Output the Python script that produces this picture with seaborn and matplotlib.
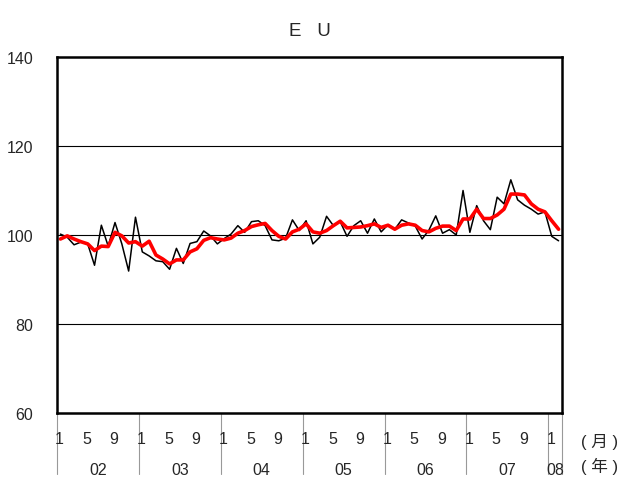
import numpy as np
import pandas as pd
import matplotlib
matplotlib.use("Agg")
import matplotlib.pyplot as plt
import matplotlib.transforms as mtransforms
import seaborn as sns

# monthly index, Jan 2002 - Feb 2008
years = ["02", "03", "04", "05", "06", "07", "08"]
month_ticks = ["1", "5", "9"]

monthly = [
    100.2, 99.5, 97.8, 98.4, 98.0, 93.2, 102.2, 97.5, 102.8, 98.0, 91.9, 104.0,
    96.2, 95.3, 94.2, 94.0, 92.3, 97.0, 93.6, 98.1, 98.5, 100.9, 99.8, 98.0,
    99.2, 100.2, 102.1, 100.6, 103.0, 103.2, 102.1, 98.9, 98.7, 99.3, 103.4, 101.0,
    103.2, 98.0, 99.5, 104.2, 102.1, 103.0, 99.7, 102.1, 103.2, 100.4, 103.6, 100.7,
    102.3, 101.3, 103.4, 102.7, 102.0, 99.1, 101.1, 104.3, 100.4, 101.2, 100.0, 110.0,
    100.6, 106.6, 103.2, 101.2, 108.5, 107.0, 112.4, 107.9, 106.7, 105.8, 104.7, 105.2,
    99.7, 98.7,
]

smoothed = [
    99.1, 99.8, 99.1, 98.5, 98.0, 96.5, 97.5, 97.4, 100.6, 99.8, 98.2, 98.5,
    97.5, 98.6, 95.5, 94.6, 93.5, 94.4, 94.4, 96.2, 96.9, 98.8, 99.4, 99.1,
    98.9, 99.3, 100.4, 101.0, 101.9, 102.3, 102.6, 101.0, 99.7, 99.1, 100.7, 101.3,
    102.5, 100.7, 100.4, 101.0, 102.1, 103.1, 101.6, 101.7, 101.8, 102.1, 102.5, 101.7,
    102.2, 101.3, 102.2, 102.5, 102.2, 101.0, 100.7, 101.5, 102.0, 102.0, 101.0, 103.6,
    103.6, 105.8, 103.7, 103.7, 104.5, 105.8, 109.2, 109.2, 109.0, 107.0, 105.8, 105.2,
    103.2, 101.3,
]

df = pd.DataFrame({"t": np.arange(len(monthly)), "monthly": monthly, "smoothed": smoothed})

sns.set_style("white")
plt.rcParams["font.family"] = ["Liberation Sans", "Noto Sans CJK JP", "DejaVu Sans"]

fig = plt.figure(figsize=(6.23, 4.81), dpi=100)
ax = fig.add_axes([57 / 623, 1 - 414 / 481, 505 / 623, 356 / 481])

sns.lineplot(data=df, x="t", y="monthly", ax=ax, color="black", linewidth=1.1)
sns.lineplot(data=df, x="t", y="smoothed", ax=ax, color="#ff0000", linewidth=2.6)

ax.set_xlim(-0.5, len(monthly) - 0.5)
ax.set_ylim(60, 140)
ax.set_yticks([60, 80, 100, 120, 140])
ax.tick_params(axis="y", length=0, pad=17, labelsize=11.5)
ax.set_xticks([])
ax.set_xlabel("")
ax.set_ylabel("")
for y in [80, 100, 120]:
    ax.axhline(y, color="black", linewidth=0.8, zorder=0)
for s in ax.spines.values():
    s.set_linewidth(1.8)
    s.set_color("black")

ax.set_title("E   U", fontsize=13.5, pad=16)

# category axis below the plot: month labels, year labels, separators
trans = mtransforms.blended_transform_factory(ax.transData, ax.transAxes)
bounds = [12 * k - 0.5 for k in range(len(years))] + [len(monthly) - 0.5]
for b in bounds:
    ax.plot([b, b], [0, -0.172], transform=trans, color="#999999",
            linewidth=0.8, clip_on=False)
for i in range(len(monthly)):
    m = i % 12 + 1
    if str(m) in month_ticks:
        ax.text(i - 0.15, -0.072, str(m), transform=trans, ha="center",
                va="center", fontsize=11.5)
for k, yr in enumerate(years):
    lo = bounds[k]
    hi = bounds[k + 1]
    ax.text((lo + hi) / 2, -0.158, yr, transform=trans, ha="center",
            va="center", fontsize=11.5)

fig.text(0.963, 1 - 442 / 481, "( 月 )", ha="center", va="center", fontsize=12)
fig.text(0.963, 1 - 466 / 481, "( 年 )", ha="center", va="center", fontsize=12)

fig.savefig("out.png", dpi=100)
